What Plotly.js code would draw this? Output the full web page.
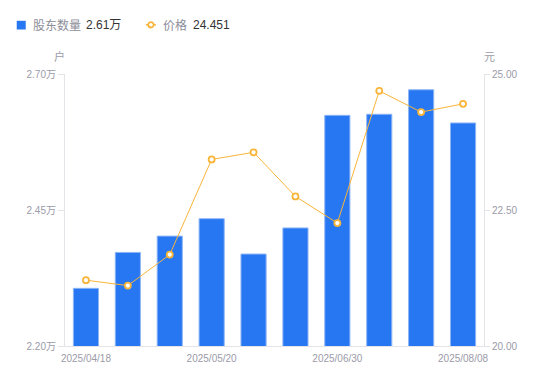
<!DOCTYPE html>
<html><head><meta charset="utf-8">
<script src="https://cdn.plot.ly/plotly-3.0.1.min.js"></script>
<style>html,body{margin:0;padding:0;background:#fff}#c{width:550px;height:381px}</style>
</head><body><div id="c"></div>
<script>
const dates = ['2025/04/18','2025/04/30','2025/05/10','2025/05/20','2025/05/31','2025/06/20','2025/06/30','2025/07/10','2025/07/31','2025/08/08'];
const holders = [2.306, 2.372, 2.402, 2.434, 2.369, 2.417, 2.624, 2.626, 2.671, 2.61];
const prices = [21.21, 21.11, 21.68, 23.43, 23.56, 22.75, 22.26, 24.69, 24.30, 24.451];
const leftTicks = [2.20, 2.45, 2.70];
const leftTickText = ['2.20万','2.45万','2.70万'];
const rightTicks = [20, 22.5, 25];
const rightTickText = ['20.00','22.50','25.00'];
const xTickDates = ['2025/04/18','2025/05/20','2025/06/30','2025/08/08'];

const L = 65, R = 65.7, T = 73.7, B = 35.3, W = 550, H = 381;
const pw = W - L - R, ph = H - T - B;
const px = x => (x - L) / pw;
const py = y => (H - B - y) / ph;
const fontFam = '"Liberation Sans", "Noto Sans CJK SC", sans-serif';
const grey = '#9b9ba8';

const traces = [
  {type:'bar', x: dates, y: holders, name:'股东数量', yaxis:'y',
   marker:{color:'#2776f2', line:{color:'#8db5f6', width:1}}, width:0.6, showlegend:false},
  {type:'scatter', mode:'lines+markers', x: dates, y: prices, name:'价格', yaxis:'y2',
   line:{color:'#f8b53a', width:1},
   marker:{symbol:'circle', size:6, color:'#ffffff', line:{color:'#f8b53a', width:1.8}}, showlegend:false}
];

const layout = {
  width: W, height: H,
  margin:{l:L, r:R, t:T, b:B, pad:0},
  paper_bgcolor:'#fff', plot_bgcolor:'#fff',
  font:{family: fontFam, size:10, color: grey},
  bargap: 0.4,
  xaxis:{type:'category', tickvals: xTickDates, ticktext: xTickDates, showgrid:false,
    showline:true, linecolor:'#e3e3e8', linewidth:1, ticks:'', tickfont:{size:10, color:grey},
    ticklabelstandoff:3, range:[-0.5, 9.5], fixedrange:true},
  yaxis:{range:[2.20, 2.70], tickvals: leftTicks, ticktext: leftTickText, showgrid:false,
    showline:true, linecolor:'#e3e3e8', linewidth:1, ticks:'outside', ticklen:6, tickcolor:'#e3e3e8',
    tickfont:{size:10, color:grey}, zeroline:false},
  yaxis2:{range:[20, 25], tickvals: rightTicks, ticktext: rightTickText, overlaying:'y', side:'right',
    showgrid:false, showline:true, linecolor:'#e3e3e8', linewidth:1, ticks:'outside', ticklen:5, tickcolor:'#e3e3e8',
    tickfont:{size:10, color:grey}, zeroline:false},
  shapes:[
    {type:'rect', xref:'paper', yref:'paper', x0:px(16.7), x1:px(25.7), y0:py(20.5), y1:py(29.2),
     fillcolor:'#2776f2', line:{width:0}},
    {type:'line', xref:'paper', yref:'paper', x0:px(146), x1:px(156), y0:py(24.5), y1:py(24.5),
     line:{color:'#f8b53a', width:1.5}},
    {type:'circle', xref:'paper', yref:'paper', x0:px(148.3), x1:px(153.7), y0:py(21.8), y1:py(27.2),
     fillcolor:'#fff', line:{color:'#f8b53a', width:1.8}}
  ],
  annotations:[
    {text:'股东数量', xref:'paper', yref:'paper', x:px(31), y:py(24.8), xanchor:'left', yanchor:'middle', showarrow:false, font:{size:12, color:'#8d8d99'}},
    {text:'2.61万', xref:'paper', yref:'paper', x:px(84.5), y:py(24.8), xanchor:'left', yanchor:'middle', showarrow:false, font:{size:12, color:'#333'}},
    {text:'价格', xref:'paper', yref:'paper', x:px(161), y:py(24.8), xanchor:'left', yanchor:'middle', showarrow:false, font:{size:12, color:'#8d8d99'}},
    {text:'24.451', xref:'paper', yref:'paper', x:px(191), y:py(24.8), xanchor:'left', yanchor:'middle', showarrow:false, font:{size:12, color:'#333'}},
    {text:'户', xref:'paper', yref:'paper', x:px(59), y:py(56.5), xanchor:'center', yanchor:'middle', showarrow:false, font:{size:11, color:grey}},
    {text:'元', xref:'paper', yref:'paper', x:px(490), y:py(56.5), xanchor:'center', yanchor:'middle', showarrow:false, font:{size:11, color:grey}}
  ]
};
Plotly.newPlot('c', traces, layout, {displayModeBar:false, staticPlot:true});
</script></body></html>
